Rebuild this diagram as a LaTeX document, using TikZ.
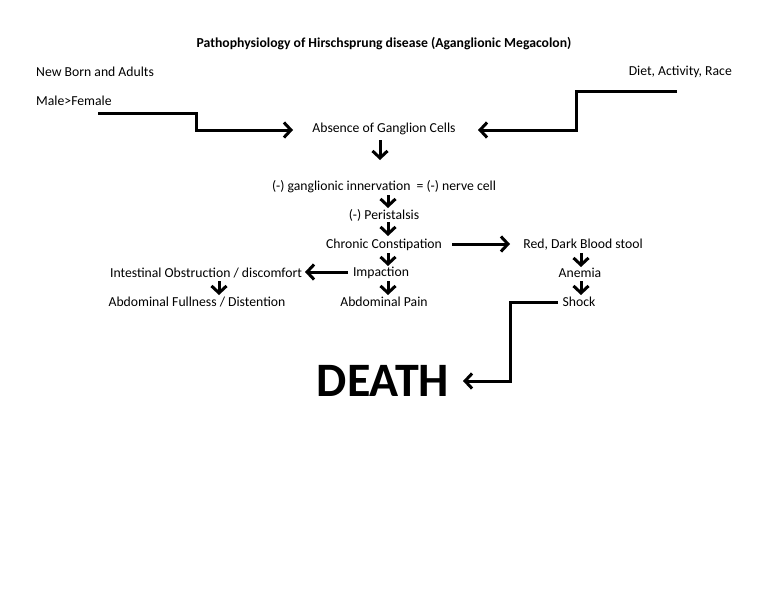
\documentclass[tikz,border=0pt]{standalone}
\usepackage{fontspec}
\setmainfont{Carlito}
\usetikzlibrary{arrows.meta}
\begin{document}
\begin{tikzpicture}[x=1pt,y=-1pt,
  t/.style={font=\fontsize{13.7}{15}\selectfont,inner sep=1pt},
  ar/.style={line width=3pt,-{Straight Barb[length=7pt,width=15pt]}}]
\useasboundingbox[fill=white] (0,0) rectangle (768,594);
\node[t,font=\fontsize{13.7}{15}\bfseries] (title) at (384,44) {Pathophysiology of Hirschsprung disease (Aganglionic Megacolon)};
\node[t,anchor=west] (nb) at (35,72) {New Born and Adults};
\node[t,anchor=west] (mf) at (35,101) {Male>Female};
\node[t,anchor=east] (dar) at (733,72) {Diet, Activity, Race};
\node[t] (abs) at (384,129) {Absence of Ganglion Cells};
\node[t] (gi) at (384,187) {(-) ganglionic innervation \ = (-) nerve cell};
\node[t] (per) at (384,215) {(-) Peristalsis};
\node[t] (cc) at (384,245) {Chronic Constipation};
\node[t] (red) at (583,245) {Red, Dark Blood stool};
\node[t] (an) at (580,273) {Anemia};
\node[t] (sh) at (579,302) {Shock};
\node[t] (imp) at (381,273) {Impaction};
\node[t] (ap) at (384,302) {Abdominal Pain};
\node[t] (io) at (206,273) {Intestinal Obstruction / discomfort};
\node[t] (af) at (197,302) {Abdominal Fullness / Distention};
\node[font=\fontsize{48}{50}\bfseries\selectfont,inner sep=0pt] (death) at (383,381) {DEATH};
\coordinate (l0) at (98,113);
\coordinate (r0) at (677,91);
\draw[ar] (l0) -- (196,113) -- (196,130) -- (293,130);
\draw[ar] (r0) -- (576,91) -- (576,130) -- (478,130);
\draw[ar] (380,140) -- (380,160);
\draw[ar] (388,195) -- (388,208);
\draw[ar] (388,222) -- (388,236);
\draw[ar] (452,244) -- (510,244);
\draw[ar] (581,253) -- (581,267);
\draw[ar] (581,281) -- (581,295);
\draw[ar] (388,253) -- (388,266);
\draw[ar] (388,281) -- (388,295);
\draw[ar] (348,272) -- (305,272);
\draw[ar] (219,281) -- (219,295);
\draw[ar] (558,302) -- (510,302) -- (510,381) -- (463,381);
\end{tikzpicture}
\end{document}
